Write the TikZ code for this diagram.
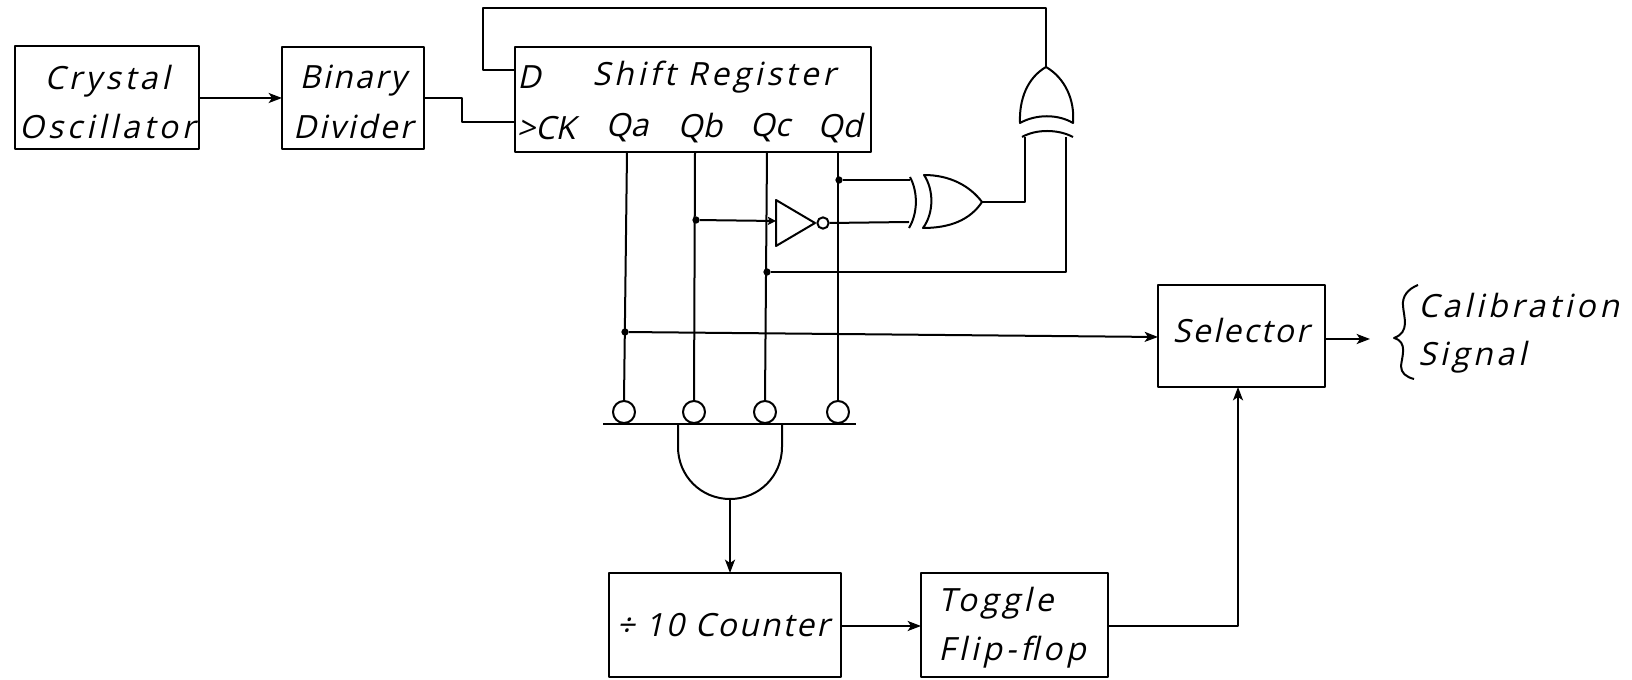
\documentclass[tikz,border=0pt]{standalone}
\usepackage{fontspec}
\setmainfont[FakeSlant=0.22,LetterSpace=7]{Open Sans}
\newfontfamily\tightf[FakeSlant=0.22,LetterSpace=0]{Open Sans}
\newfontfamily\widef[FakeSlant=0.22,LetterSpace=12]{Open Sans}
\usetikzlibrary{arrows.meta}
\tikzset{
  x=0.75pt,y=-0.75pt,
  wire/.style={line width=1.5pt,line join=round},
  arr/.style={wire,-{Stealth[length=10pt,width=7.5pt,inset=2.5pt]}},
  sarr/.style={wire,-{Stealth[length=6pt,width=6pt,inset=1pt]}},
  lbl/.style={font=\fontsize{24}{37}\selectfont,inner sep=0pt,align=center,anchor=center},
  tlbl/.style={font=\tightf\fontsize{24}{37}\selectfont,inner sep=0pt,align=center,anchor=center},
  wlbl/.style={font=\widef\fontsize{24}{37}\selectfont,inner sep=0pt,align=left,anchor=center},
  dot/.style={circle,fill,inner sep=0pt,minimum size=5.5pt},
  bubble/.style={circle,draw,wire,fill=white,inner sep=0pt},
}
\begin{document}
\begin{tikzpicture}
\useasboundingbox (0,0) rectangle (1632,680);
% boxes
\draw[wire] (15,46) rectangle (199,149);
\draw[wire] (282,47) rectangle (424,149);
\draw[wire] (515,47) rectangle (871,152);
\draw[wire] (1158,285) rectangle (1325,387);
\draw[wire] (609,573) rectangle (841,677);
\draw[wire] (921,573) rectangle (1108,677);
\coordinate (co) at (199,98); \coordinate (bi) at (282,98);
\coordinate (bo) at (424,98); \coordinate (ck) at (515,122);
\node[wlbl,align=center] (xtal) at (107,102) {Crystal\\Oscillator};
\node[lbl] (bdiv) at (353,102) {Binary\\Divider};
\node[lbl] (dd) at (529,77) {D};
\node[wlbl] (sr) at (714,77) {Shift Register};
\node[tlbl] (cklbl) at (546,128) {>CK};
\node[tlbl] (qa) at (627,128) {Qa};
\node[tlbl] (qb) at (700,128) {Qb};
\node[tlbl] (qc) at (770,128) {Qc};
\node[tlbl] (qd) at (840,128) {Qd};
\node[lbl] (sel) at (1241,331) {Selector};
\node[lbl] (cnt) at (723,625) {÷ 10 Counter};
\node[wlbl,anchor=west] (tff) at (938,628) {Toggle\\Flip-flop};
\node[wlbl,anchor=west] (cal) at (1418,306) {Calibration};
\node[wlbl,anchor=west] (sig) at (1418,357) {Signal};
\draw[arr] (co) -- (bi);
\draw[wire] (bo) -- (462,98) -- (462,122) -- (ck);
% feedback
\draw[wire] (515,70) -- (483,70) -- (483,8) -- (1046,8) -- (1046,67);
% register outputs
\foreach \n/\xa/\xb in {a/627/624,b/695/694,c/767/765,d/838/838}{
  \node[bubble,minimum size=16.5pt] (c\n) at (\xb,412) {};
  \draw[wire] (\xa,152) -- (c\n.north);
}
\draw[line width=1.8pt] (603,424) -- (856,424);
\draw[wire] (678,424) -- (678,447) .. controls (678,476) and (701,499) .. (730,499)
  .. controls (759,499) and (782,476) .. (782,447) -- (782,424);
\coordinate (aout) at (730,499);
\draw[arr] (aout) -- (730,573);
\draw[arr] (841,626) -- (921,626);
\draw[arr] (1108,626) -- (1238,626) -- (1238,387);
\node[dot] (da) at (625,332) {};
\draw[arr] (da) -- (1158,337);
\draw[arr] (1325,339) -- (1370,339);
% inverter
\node[dot] (db) at (696,220) {};
\draw[sarr] (db) -- (776,221);
\draw[wire] (776,200) -- (776,246) -- (815,223) -- cycle;
\node[bubble,minimum size=8.5pt] (bub) at (823,223) {};
\draw[wire] (bub.east) -- (909,222);
\node[dot] (dd2) at (839,180) {};
\draw[wire] (dd2) -- (910,180);
% xor 1
\draw[wire] (910,177) .. controls (918,192) and (918,213) .. (909,228);
\draw[wire] (924,175) .. controls (934,190) and (934,213) .. (923,228)
  .. controls (950,228) and (970,220) .. (982,202)
  .. controls (970,186) and (950,175) .. (924,175) -- cycle;
\draw[wire] (982,202) -- (1025,202) -- (1025,137);
% xor 2
\draw[wire] (1022,137) .. controls (1036,129) and (1058,129) .. (1073,137);
\draw[wire] (1020,123) .. controls (1036,114) and (1058,114) .. (1073,123)
  .. controls (1075,100) and (1065,78) .. (1046,67)
  .. controls (1027,78) and (1019,100) .. (1020,123) -- cycle;
\node[dot] (dc) at (767,272) {};
\draw[wire] (dc) -- (1066,272) -- (1066,137);
% brace
\draw[wire] (1418,285) .. controls (1408,289) and (1402,296) .. (1403,306)
  .. controls (1404,318) and (1410,332) .. (1394,338)
  .. controls (1408,342) and (1402,356) .. (1401,366)
  .. controls (1401,373) and (1406,377) .. (1414,379);
\end{tikzpicture}
\end{document}
